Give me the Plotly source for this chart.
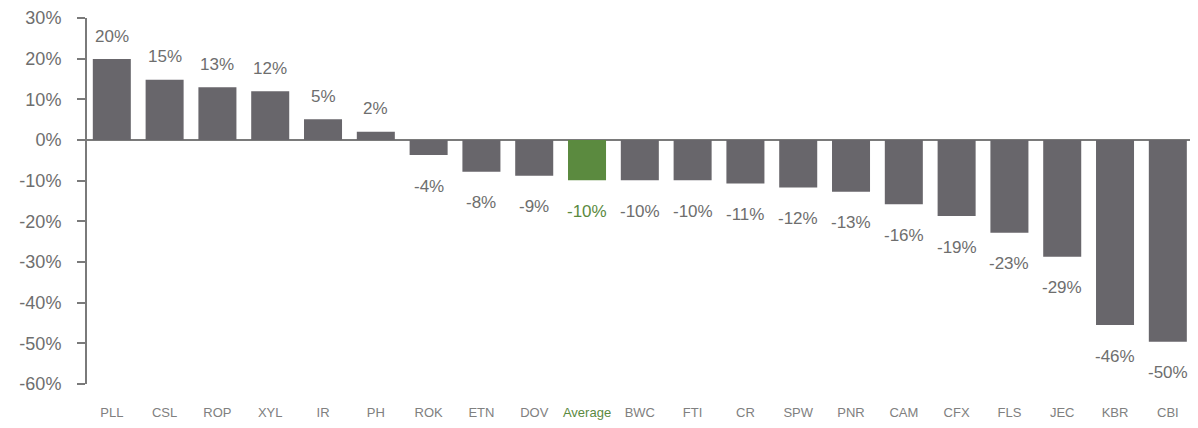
import plotly.graph_objects as go

tickers = ["PLL", "CSL", "ROP", "XYL", "IR", "PH", "ROK", "ETN", "DOV", "Average",
           "BWC", "FTI", "CR", "SPW", "PNR", "CAM", "CFX", "FLS", "JEC", "KBR", "CBI"]
values = [19.9, 14.8, 13.0, 12.0, 5.1, 2.0, -3.7, -7.8, -8.8, -9.9,
          -9.9, -9.9, -10.7, -11.7, -12.7, -15.8, -18.7, -22.8, -28.7, -45.5, -49.6]
labels = ["20%", "15%", "13%", "12%", "5%", "2%", "-4%", "-8%", "-9%", "-10%",
          "-10%", "-10%", "-11%", "-12%", "-13%", "-16%", "-19%", "-23%", "-29%", "-46%", "-50%"]
y_ticks = [30, 20, 10, 0, -10, -20, -30, -40, -50, -60]
y_ticktext = ["30%", "20%", "10%", "0%", "-10%", "-20%", "-30%", "-40%", "-50%", "-60%"]

GREY = "#68666b"
GREEN = "#5b8a3f"
TEXT = "#6e6e6e"
highlight = "Average"

colors = [GREEN if t == highlight else GREY for t in tickers]
xs = list(range(len(tickers)))

fig = go.Figure()
fig.add_trace(go.Bar(x=xs, y=values, marker=dict(color=colors, line=dict(width=0)),
                     hoverinfo="skip"))

for i, (v, lab, t) in enumerate(zip(values, labels, tickers)):
    fig.add_annotation(x=i, y=v, text=lab, showarrow=False,
                       yshift=23 if v >= 0 else -31,
                       font=dict(size=17, color=GREEN if t == highlight else TEXT,
                                 family="Liberation Sans"))

ticktext = [f'<span style="color:{GREEN}">{t}</span>' if t == highlight else t for t in tickers]

fig.update_layout(
    width=1182, height=412,
    margin=dict(l=79, r=0, t=10, b=36),
    paper_bgcolor="white", plot_bgcolor="white",
    showlegend=False, bargap=0.28,
    font=dict(family="Liberation Sans", color=TEXT),
    xaxis=dict(range=[-0.47, 20.42], tickvals=xs, ticktext=ticktext,
               showgrid=False, zeroline=False, showline=False, ticks="",
               tickfont=dict(size=13, color="#808080"), ticklabelstandoff=19,
               fixedrange=True),
    yaxis=dict(range=[-60, 30], tickvals=y_ticks, ticktext=y_ticktext,
               showgrid=False, zeroline=True, zerolinecolor="#7a7a7a", zerolinewidth=2,
               showline=True, linecolor="#7a7a7a", linewidth=2,
               ticks="outside", ticklen=8, tickwidth=2, tickcolor="#7a7a7a",
               tickfont=dict(size=18, color=TEXT), ticklabelstandoff=12,
               fixedrange=True),
)

fig.write_html("out.html")
